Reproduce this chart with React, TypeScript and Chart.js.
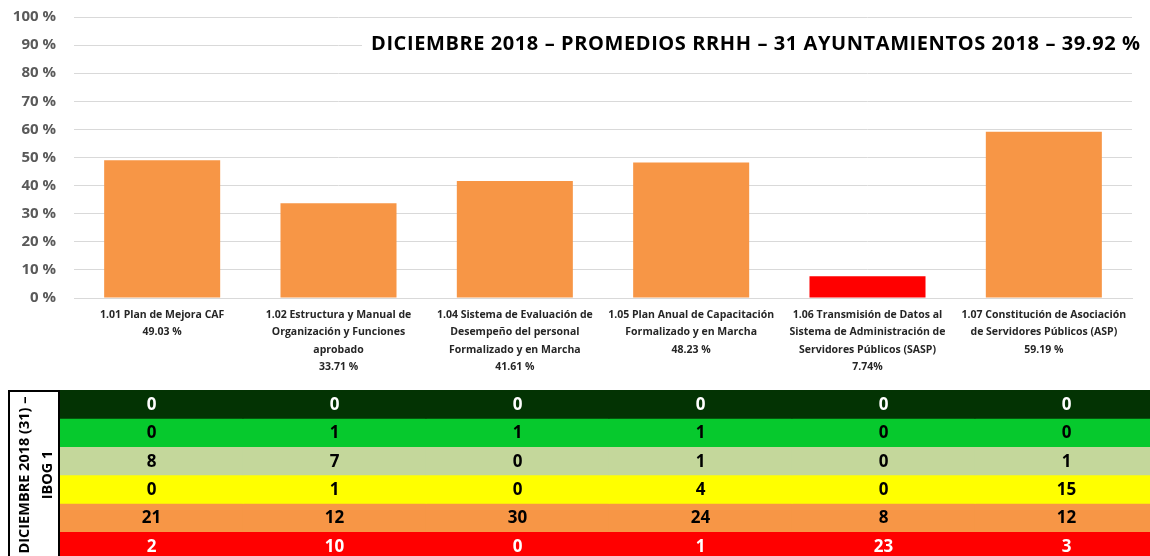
import React, { useEffect, useRef } from "react";
import { Chart, registerables } from "chart.js";

Chart.register(...registerables);

// ---------- data ----------
const categoryLines: string[][] = [
  ["1.01 Plan de Mejora CAF"],
  ["1.02 Estructura y Manual de", "Organización y Funciones", "aprobado"],
  ["1.04 Sistema de Evaluación de", "Desempeño del personal", "Formalizado y en Marcha"],
  ["1.05 Plan Anual de Capacitación", "Formalizado y en Marcha"],
  ["1.06 Transmisión de Datos al", "Sistema de Administración de", "Servidores Públicos (SASP)"],
  ["1.07 Constitución de Asociación", "de Servidores Públicos (ASP)"],
];
const percentLabels = ["49.03 %", "33.71 %", "41.61 %", "48.23 %", "7.74%", "59.19 %"];
const averages = [49.03, 33.71, 41.61, 48.23, 7.74, 59.19];
const barColors = ["#F79646", "#F79646", "#F79646", "#F79646", "#FF0000", "#F79646"];
const chartTitle = "DICIEMBRE 2018 – PROMEDIOS RRHH – 31 AYUNTAMIENTOS 2018 – 39.92 %";

const tableTitle = ["DICIEMBRE 2018 (31) –", "IBOG 1"];
const rowDarkGreen = [0, 0, 0, 0, 0, 0];
const rowGreen = [0, 1, 1, 1, 0, 0];
const rowLightGreen = [8, 7, 0, 1, 0, 1];
const rowYellow = [0, 1, 0, 4, 0, 15];
const rowOrange = [21, 12, 30, 24, 8, 12];
const rowRed = [2, 10, 0, 1, 23, 3];
const tableRows = [rowDarkGreen, rowGreen, rowLightGreen, rowYellow, rowOrange, rowRed];
const tableRowColors = ["#033303", "#06C92D", "#C4D79B", "#FFFF00", "#F79646", "#FF0000"];
const tableTextColors = ["#FFFFFF", "#000000", "#000000", "#000000", "#000000", "#FFFFFF"];

const FONT = "'Open Sans', 'DejaVu Sans', sans-serif";

export default function App() {
  const topRef = useRef<HTMLCanvasElement>(null);
  const tableRef = useRef<HTMLCanvasElement>(null);

  useEffect(() => {
    const titlePlugin = {
      id: "boxTitle",
      afterDraw(chart: any) {
        const ctx = chart.ctx;
        ctx.save();
        ctx.fillStyle = "#FFFFFF";
        ctx.fillRect(362, 30, 788, 28);
        ctx.font = `bold 20px ${FONT}`;
        const w = ctx.measureText(chartTitle).width;
        const target = 1140 - 371;
        const sp = (target - w) / (chartTitle.length - 1);
        (ctx as any).letterSpacing = `${sp}px`;
        ctx.fillStyle = "#000000";
        ctx.textAlign = "left";
        ctx.textBaseline = "middle";
        ctx.fillText(chartTitle, 371, 44);
        ctx.restore();
      },
    };

    const top = new Chart(topRef.current!, {
      type: "bar",
      data: {
        labels: categoryLines.map((l, i) => [...l, percentLabels[i]]),
        datasets: [
          {
            data: averages,
            backgroundColor: barColors,
            borderWidth: 0,
            barPercentage: 0.658,
            categoryPercentage: 1,
          },
        ],
      },
      options: {
        responsive: false,
        animation: false,
        devicePixelRatio: 1,
        layout: { padding: { top: 17, right: 18, left: 0, bottom: 0 } },
        plugins: { legend: { display: false }, tooltip: { enabled: false }, title: { display: false } },
        scales: {
          y: {
            min: 0,
            max: 100,
            ticks: {
              stepSize: 10,
              callback: (v: any) => `${v} %`,
              font: { family: FONT, size: 15, weight: "bold" },
              color: "#595959",
              padding: 18,
            },
            grid: { color: "#D9D9D9", lineWidth: 1, drawTicks: false },
            border: { display: false },
            afterFit: (s: any) => {
              s.width = 74;
              s.paddingTop = 0;
              s.paddingBottom = 0;
            },
          },
          x: {
            grid: { display: false, drawTicks: false },
            border: { display: true, color: "#D9D9D9" },
            ticks: {
              font: { family: FONT, size: 10.5, weight: "bold", lineHeight: 1.62 },
              color: "#262626",
              maxRotation: 0,
              minRotation: 0,
              autoSkip: false,
              padding: 9,
            },
            afterFit: (s: any) => {
              s.height = 87;
            },
          },
        },
      },
      plugins: [titlePlugin],
    } as any);

    const cellTextPlugin = {
      id: "cellText",
      afterDatasetsDraw(chart: any) {
        const ctx = chart.ctx;
        ctx.save();
        ctx.font = `bold 17px ${FONT}`;
        ctx.textAlign = "center";
        ctx.textBaseline = "middle";
        chart.data.datasets.forEach((_ds: any, i: number) => {
          const meta = chart.getDatasetMeta(i);
          meta.data.forEach((el: any, j: number) => {
            ctx.fillStyle = tableTextColors[i];
            ctx.fillText(String(tableRows[i][j]), el.x, (el.y + el.base) / 2 + 1);
          });
        });
        // label box border
        const a = chart.chartArea;
        ctx.strokeStyle = "#000000";
        ctx.lineWidth = 2;
        ctx.beginPath();
        ctx.moveTo(1, chart.height);
        ctx.lineTo(1, 1);
        ctx.lineTo(a.left - 1, 1);
        ctx.lineTo(a.left - 1, chart.height);
        ctx.stroke();
        ctx.restore();
      },
    };

    const table = new Chart(tableRef.current!, {
      type: "bar",
      data: {
        labels: categoryLines.map((l) => l[0]),
        datasets: tableRows.map((row, i) => ({
          data: row.map(() => [i, i + 1]),
          backgroundColor: tableRowColors[i],
          borderWidth: 0,
          borderSkipped: false,
          barPercentage: 1,
          categoryPercentage: 1,
          grouped: false,
        })),
      },
      options: {
        responsive: false,
        animation: false,
        devicePixelRatio: 1,
        layout: { padding: 0 },
        plugins: { legend: { display: false }, tooltip: { enabled: false } },
        scales: {
          x: { display: false },
          y: {
            min: 0,
            max: 6,
            reverse: true,
            grid: { display: false, drawTicks: false },
            border: { display: false },
            ticks: { display: false },
            title: {
              display: true,
              text: tableTitle,
              color: "#000000",
              font: { family: FONT, size: 14.5, weight: "bold", lineHeight: 1.6 },
              padding: { top: 5, bottom: 0 },
            },
            afterFit: (s: any) => {
              s.width = 52;
            },
          },
        },
      },
      plugins: [cellTextPlugin],
    } as any);

    return () => {
      top.destroy();
      table.destroy();
    };
  }, []);

  return (
    <div
      style={{
        position: "absolute",
        left: 0,
        top: 0,
        width: 1150,
        height: 556,
        overflow: "hidden",
        background: "#FFFFFF",
      }}
    >
      <div style={{ position: "absolute", left: 0, top: 0, width: 1150, height: 385 }}>
        <canvas ref={topRef} width={1150} height={385} style={{ display: "block" }} />
      </div>
      <div style={{ position: "absolute", left: 8, top: 390, width: 1150, height: 170 }}>
        <canvas ref={tableRef} width={1150} height={170} style={{ display: "block" }} />
      </div>
    </div>
  );
}
